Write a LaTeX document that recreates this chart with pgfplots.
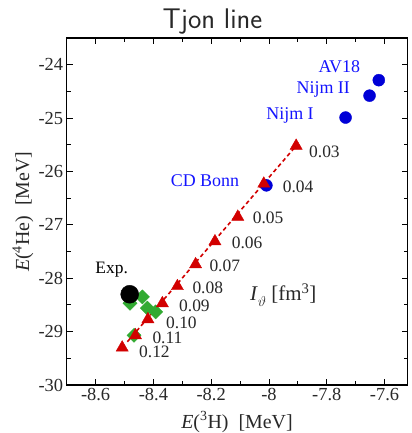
\documentclass[border=0pt]{standalone}
\usepackage{fontspec}
\setmainfont{Liberation Serif}
\usepackage{pgfplots}
\pgfplotsset{compat=1.18}
\definecolor{tred}{RGB}{210,0,0}
\definecolor{tblue}{RGB}{0,0,215}
\definecolor{lblue}{RGB}{20,20,255}
\definecolor{tgreen}{RGB}{50,170,50}
\definecolor{tgray}{RGB}{40,40,40}
\newcommand{\fs}{\fontsize{17.5}{20}\selectfont}
\begin{document}
\begin{tikzpicture}
\begin{axis}[at={(0,0)}, anchor=south west, scale only axis,
  width=341bp, height=347bp,
  xmin=-8.7, xmax=-7.52, ymin=-30, ymax=-23.5,
  xtick={-8.6,-8.4,-8.2,-8,-7.8,-7.6},
  xticklabels={-8.6,-8.4,-8.2,-8,-7.8,-7.6},
  ytick={-30,-29,-28,-27,-26,-25,-24},
  yticklabels={-30,-29,-28,-27,-26,-25,-24},
  minor x tick num=1, minor y tick num=1,
  tick align=inside,
  major tick length=6bp, minor tick length=4bp,
  axis line style={line width=1.2bp},
  every tick/.style={black, line width=0.9bp},
  ticklabel style={font=\fontsize{18.5}{20}\selectfont, text=tgray},
  clip=false]
\addplot[only marks, mark=square*, mark size=5bp, mark options={rotate=45}, color=tgreen]
  coordinates {(-8.438,-28.35) (-8.481,-28.47) (-8.421,-28.56) (-8.392,-28.63) (-8.467,-29.07)};
\addplot[tred, line width=1.6bp, dash pattern=on 4bp off 3bp]
  coordinates {(-8.49,-29.19) (-7.906,-25.52)};
\addplot[only marks, mark=*, mark size=6bp, color=tblue]
  coordinates {(-7.620,-24.29) (-7.652,-24.58) (-7.735,-24.99) (-8.009,-26.26)};
\addplot[only marks, mark=triangle*, mark size=7bp, color=tred]
  coordinates {(-7.906,-25.52) (-8.018,-26.23) (-8.108,-26.85) (-8.187,-27.31) (-8.254,-27.74)
               (-8.317,-28.15) (-8.369,-28.47) (-8.419,-28.77) (-8.462,-29.07) (-8.508,-29.30)};
\addplot[only marks, mark=*, mark size=9bp, color=black]
  coordinates {(-8.482,-28.30)};
\end{axis}
% title
\node[anchor=base, text=tgray, font=\sffamily\fontsize{28.5}{30}\selectfont] at (145.8bp,356.7bp) {Tjon line};
% axis labels
\node[anchor=base, text=tgray, font=\fontsize{20}{22}\selectfont] at (170.3bp,-43bp) {\textit{E}(\textsuperscript{3}H)\ \ [MeV]};
\node[anchor=base, rotate=90, text=tgray, font=\fontsize{20}{22}\selectfont] at (-37.7bp,173.3bp) {\textit{E}(\textsuperscript{4}He)\ \ [MeV]};
% value labels
\begin{scope}[every node/.style={anchor=west, inner sep=0pt, text=tgray, font=\fs}]
\node at (242.3bp,232.7bp) {0.03};
\node at (216bp,198.3bp) {0.04};
\node at (186bp,167.5bp) {0.05};
\node at (165bp,141.7bp) {0.06};
\node at (142.6bp,119.3bp) {0.07};
\node at (125.6bp,96.7bp) {0.08};
\node at (112.3bp,79.5bp) {0.09};
\node at (99.3bp,62.4bp) {0.10};
\node at (85.6bp,47.6bp) {0.11};
\node at (72.3bp,32.8bp) {0.12};
\end{scope}
\begin{scope}[every node/.style={inner sep=0pt, text=lblue, font=\fontsize{18}{20}\selectfont}]
\node at (272.6bp,318.3bp) {AV18};
\node at (256.6bp,295.7bp) {Nijm II};
\node at (223.3bp,270bp) {Nijm I};
\node at (138.3bp,204.3bp) {CD Bonn};
\end{scope}
\node[inner sep=0pt, text=black, font=\fs] at (45bp,115bp) {Exp.};
\node[inner sep=0pt, text=tgray, font=\fontsize{21}{23}\selectfont] at (216.6bp,90bp) {\textit{I}\raisebox{-0.25em}{\fontsize{15}{16}\selectfont$\vartheta$}\ [fm\textsuperscript{3}]};
\pgfresetboundingbox
\useasboundingbox (-66.7bp,-48bp) rectangle (345.3bp,385bp);
\end{tikzpicture}
\end{document}
